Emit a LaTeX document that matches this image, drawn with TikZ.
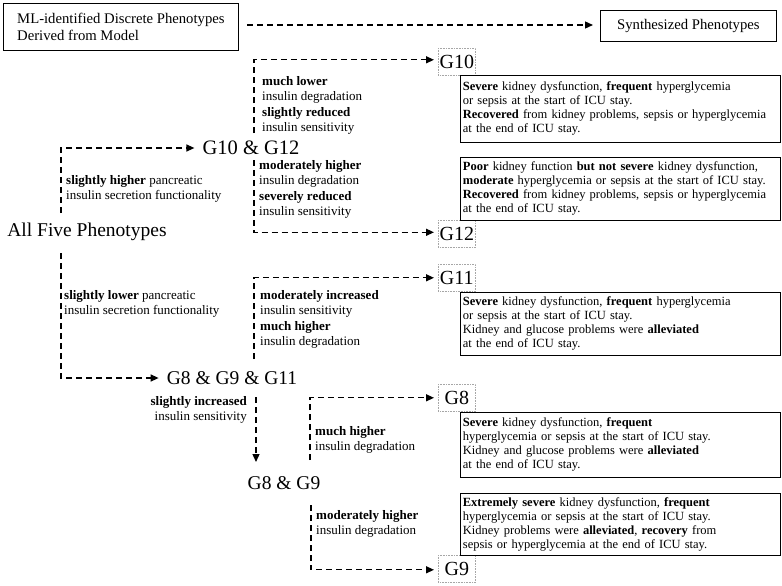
\documentclass[tikz,border=0pt]{standalone}
\usepackage{fontspec}
\setmainfont{Liberation Serif}
\usetikzlibrary{arrows.meta}
\begin{document}
\begin{tikzpicture}[x=1pt,y=-1pt,
  dl/.style={line width=1.3pt, dash pattern=on 6pt off 4pt},
  arr/.style={dl, -{Triangle[length=8pt,width=7pt]}},
  big/.style={font=\fontsize{19.5}{22}\selectfont, inner sep=0pt},
  lbl/.style={font=\fontsize{13}{15.5}\selectfont, align=left, anchor=north west, inner sep=0pt},
  gbox/.style={draw=gray!70, densely dotted, line width=0.6pt, font=\fontsize{20}{22}\selectfont, minimum width=37pt, minimum height=27pt, inner sep=0pt, anchor=north west},
  desc/.style={draw, line width=0.8pt, anchor=north west, text width=315pt, inner xsep=2.5pt, inner ysep=2pt, minimum height=64pt, align=left, font=\fontsize{12.5}{14}\selectfont},
  hbox/.style={draw, line width=0.8pt, align=left}
]
\useasboundingbox (0,0) rectangle (782,586);

% header
\node[hbox, anchor=north west, minimum width=235pt, minimum height=47pt, inner xsep=10pt, font=\fontsize{14.7}{16.5}\selectfont] (ml) at (3,3) {ML-identified Discrete Phenotypes\\Derived from Model};
\node[hbox, anchor=north west, minimum width=176pt, minimum height=31pt, font=\fontsize{14.7}{17}\selectfont] (syn) at (600,10) {Synthesized Phenotypes};
\coordinate (mlo) at (247,25);
\draw[arr] (mlo) -- ([xshift=-7pt]mlo -| syn.west);

% main nodes
\node[big] (all) at (87,232) {All Five Phenotypes};
\node[big, font=\fontsize{20.5}{22}\selectfont] (g1012) at (251,148) {G10 \& G12};
\node[big] (g8911) at (232,378) {G8 \& G9 \& G11};
\node[big] (g89) at (284,483) {G8 \& G9};

% G boxes
\node[gbox] (g10) at (438,48) {G10};
\node[gbox] (g12) at (438,220) {G12};
\node[gbox] (g11) at (438,264) {G11};
\node[gbox] (g8) at (438,384) {G8};
\node[gbox] (g9) at (438,555) {G9};

% description boxes
\node[desc, minimum height=67pt] (d10) at (460,75) {\textbf{Severe} kidney dysfunction, \textbf{frequent} hyperglycemia\\ or sepsis at the start of ICU stay.\\ \textbf{Recovered} from kidney problems, sepsis or hyperglycemia\\ at the end of ICU stay.};
\node[desc, minimum height=63pt] (d12) at (460,157) {\textbf{Poor} kidney function \textbf{but not severe} kidney dysfunction,\\ \textbf{moderate} hyperglycemia or sepsis at the start of ICU stay.\\ \textbf{Recovered} from kidney problems, sepsis or hyperglycemia\\ at the end of ICU stay.};
\node[desc, minimum height=63pt] (d11) at (460,292) {\textbf{Severe} kidney dysfunction, \textbf{frequent} hyperglycemia\\ or sepsis at the start of ICU stay.\\ Kidney and glucose problems were \textbf{alleviated}\\ at the end of ICU stay.};
\node[desc, minimum height=65pt] (d8) at (460,412) {\textbf{Severe} kidney dysfunction, \textbf{frequent}\\ hyperglycemia or sepsis at the start of ICU stay.\\ Kidney and glucose problems were \textbf{alleviated}\\ at the end of ICU stay.};
\node[desc, minimum height=62pt] (d9) at (460,493) {\textbf{Extremely severe} kidney dysfunction, \textbf{frequent}\\ hyperglycemia or sepsis at the start of ICU stay.\\ Kidney problems were \textbf{alleviated}, \textbf{recovery} from\\ sepsis or hyperglycemia at the end of ICU stay.};

% connectors
\coordinate (c1) at (61,213);
\draw[arr] (c1) |- ([xshift=-8pt]g1012.west);
\coordinate (c2) at (61,253);
\draw[arr] (c2) |- ([xshift=-8pt]g8911.west);
\coordinate (c3) at (254,133);
\draw[arr] (c3) |- ([xshift=-4pt,yshift=2pt]g10.west);
\coordinate (c4) at (254,160);
\draw[arr] (c4) |- ([xshift=-4pt,yshift=1.5pt]g12.west);
\coordinate (c5) at (254,359);
\draw[arr] (c5) |- ([xshift=-4pt]g11.west);
\coordinate (c6) at (256,397);
\coordinate (c6e) at (256,462);
\draw[arr] (c6) -- (c6e);
\coordinate (c7) at (310,460);
\draw[arr] (c7) |- ([xshift=-4pt]g8.west);
\coordinate (c8) at (311,505);
\draw[arr] (c8) |- ([xshift=-4pt,yshift=-1pt]g9.west);

% labels
\node[lbl] (l1) at (262,76) {\textbf{much lower}\\insulin degradation\\\textbf{slightly reduced}\\insulin sensitivity};
\node[lbl] (l2) at (259,160) {\textbf{moderately higher}\\insulin degradation\\\textbf{severely reduced}\\insulin sensitivity};
\node[lbl] (l3) at (66,175) {\textbf{slightly higher} pancreatic\\insulin secretion functionality};
\node[lbl] (l4) at (64,290) {\textbf{slightly lower} pancreatic\\insulin secretion functionality};
\node[lbl] (l5) at (260,290) {\textbf{moderately increased}\\insulin sensitivity\\\textbf{much higher}\\insulin degradation};
\node[lbl, anchor=north east, align=right] (l6) at (247,396) {\textbf{slightly increased}\\insulin sensitivity};
\node[lbl] (l7) at (315,426) {\textbf{much higher}\\insulin degradation};
\node[lbl] (l8) at (316,510) {\textbf{moderately higher}\\insulin degradation};
\end{tikzpicture}
\end{document}
